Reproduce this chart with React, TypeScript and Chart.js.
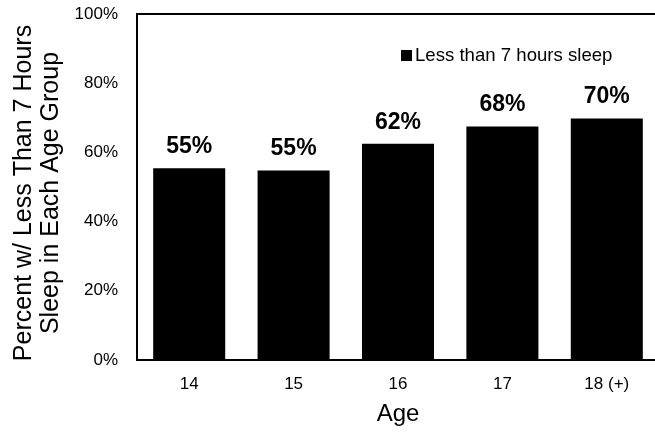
import React, { useEffect, useRef } from "react";
import { Chart, registerables } from "chart.js";

Chart.register(...registerables);

const categories = ["14", "15", "16", "17", "18 (+)"];
const values = [55.4, 54.8, 62.5, 67.5, 69.8];
const valueLabels = ["55%", "55%", "62%", "68%", "70%"];
const seriesName = "Less than 7 hours sleep";
const yTicks = [0, 20, 40, 60, 80, 100];
const yTitle = ["Percent w/ Less Than 7 Hours", "Sleep in Each Age Group"];
const xTitle = "Age";

const FONT = "'Liberation Sans', Arial, Helvetica, sans-serif";

const framePlugin = {
  id: "frame",
  afterDraw(chart: any) {
    const { ctx, chartArea } = chart;
    ctx.save();
    ctx.strokeStyle = "#000";
    ctx.lineWidth = 2;
    ctx.strokeRect(chartArea.left, chartArea.top, chartArea.right - chartArea.left, chartArea.bottom - chartArea.top);
    ctx.restore();
  },
};

const yTitlePlugin = {
  id: "yTitle",
  afterDraw(chart: any) {
    const { ctx, chartArea } = chart;
    const cy = (chartArea.top + chartArea.bottom) / 2 + 6;
    ctx.save();
    ctx.fillStyle = "#000";
    ctx.font = `25px ${FONT}`;
    ctx.textAlign = "center";
    ctx.textBaseline = "middle";
    yTitle.forEach((line, i) => {
      ctx.save();
      ctx.translate(24 + i * 27.5, cy);
      ctx.rotate(-Math.PI / 2);
      ctx.fillText(line, 0, 0);
      ctx.restore();
    });
    ctx.restore();
  },
};

const dataLabelPlugin = {
  id: "dataLabels",
  afterDatasetsDraw(chart: any) {
    const { ctx } = chart;
    const meta = chart.getDatasetMeta(0);
    ctx.save();
    ctx.fillStyle = "#000";
    ctx.font = `bold 23px ${FONT}`;
    ctx.textAlign = "center";
    ctx.textBaseline = "alphabetic";
    meta.data.forEach((el: any, i: number) => {
      ctx.fillText(valueLabels[i], el.x, el.y - 15);
    });
    ctx.restore();
  },
};

const legendPlugin = {
  id: "innerLegend",
  afterDraw(chart: any) {
    const { ctx, chartArea } = chart;
    const ds = chart.data.datasets[0];
    const x = chartArea.left + 264;
    const y = chartArea.top + 41;
    ctx.save();
    ctx.fillStyle = ds.backgroundColor;
    ctx.fillRect(x, y - 5, 11, 11);
    ctx.fillStyle = "#000";
    ctx.font = `18.6px ${FONT}`;
    ctx.textAlign = "left";
    ctx.textBaseline = "middle";
    ctx.fillText(ds.label, x + 14, y + 1);
    ctx.restore();
  },
};

export default function App() {
  const ref = useRef<HTMLCanvasElement | null>(null);

  useEffect(() => {
    if (!ref.current) return;
    const chart = new Chart(ref.current, {
      type: "bar",
      data: {
        labels: categories,
        datasets: [
          {
            label: seriesName,
            data: values,
            backgroundColor: "#000000",
            borderWidth: 0,
            categoryPercentage: 1,
            barPercentage: 0.69,
          },
        ],
      },
      options: {
        responsive: false,
        animation: false,
        layout: { padding: { top: 14, right: 3, left: 0, bottom: 0 } },
        plugins: {
          legend: { display: false },
          tooltip: { enabled: false },
        },
        scales: {
          x: {
            grid: { display: false },
            border: { display: false },
            ticks: {
              color: "#000",
              font: { family: FONT, size: 17 },
              padding: 6,
              maxRotation: 0,
            },
            title: {
              display: true,
              text: xTitle,
              color: "#000",
              font: { family: FONT, size: 24 },
              padding: { top: 0, bottom: 3 },
            },
            afterFit: (s: any) => {
              s.height = 72;
              s.paddingLeft = 0;
              s.paddingRight = 0;
            },
          },
          y: {
            min: 0,
            max: 100,
            grid: { display: false },
            border: { display: false },
            ticks: {
              color: "#000",
              font: { family: FONT, size: 17 },
              padding: 11,
              callback: (v: any) => `${v}%`,
            },
            afterBuildTicks: (s: any) => {
              s.ticks = yTicks.map((v) => ({ value: v }));
            },
            title: { display: false },
            afterFit: (s: any) => {
              s.width = 137;
              s.paddingTop = 0;
              s.paddingBottom = 0;
            },
          },
        },
      },
      plugins: [dataLabelPlugin, framePlugin, legendPlugin, yTitlePlugin],
    });
    return () => chart.destroy();
  }, []);

  return (
    <div style={{ position: "fixed", left: 0, top: 0, width: 662, height: 432, background: "#fff" }}>
      <canvas ref={ref} width={662} height={432} style={{ display: "block" }} />
    </div>
  );
}
